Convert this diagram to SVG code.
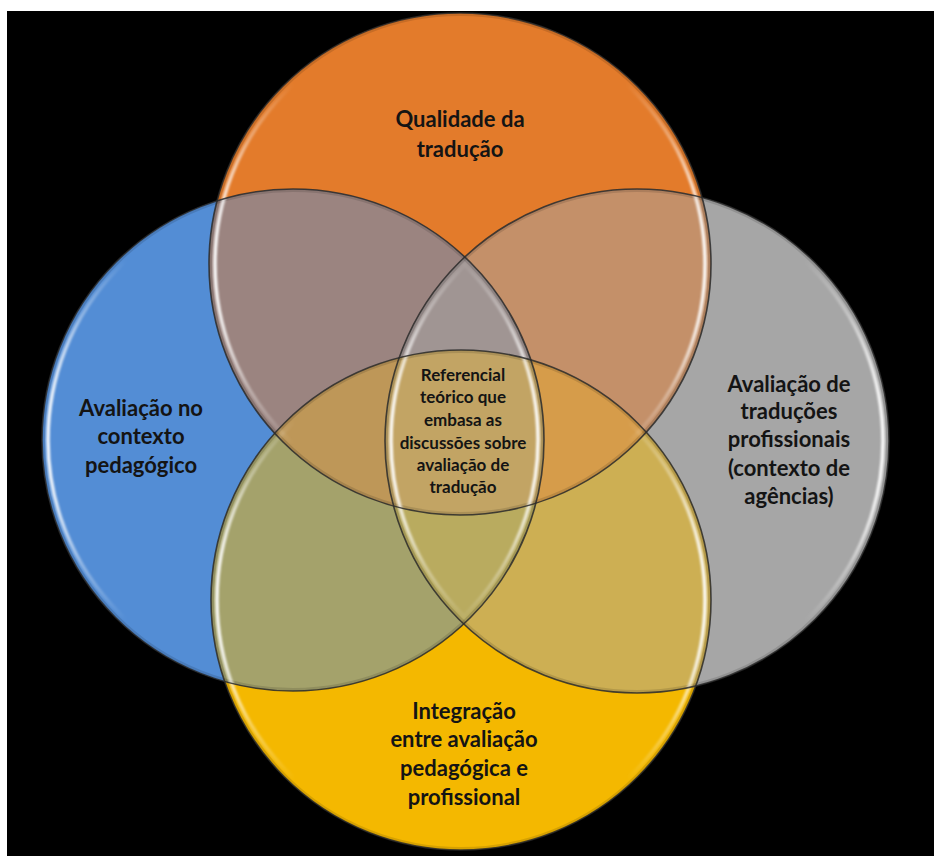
<svg xmlns="http://www.w3.org/2000/svg" width="934" height="856" viewBox="0 0 934 856">
  <defs>
    <style>
      .lbl { font-family: Lato, "Open Sans", "Liberation Sans", sans-serif; font-weight: 700; fill: #141414; text-anchor: middle; }
      .big { font-size: 22px; }
      .small { font-size: 17px; }
      .rim { fill: none; stroke: #2a2a2a; stroke-width: 1.6; stroke-opacity: 0.85; }
      .sheen { fill: none; stroke: url(#sheen); stroke-width: 3.5; }
      .inner { fill: none; stroke: #000; stroke-opacity: 0.12; stroke-width: 6; }
    </style>
    <!-- glossy highlight running down the left and right sides of each disc -->
    <linearGradient id="sheen" x1="0" y1="0" x2="1" y2="0">
      <stop offset="0" stop-color="#fff" stop-opacity="0.95"/>
      <stop offset="0.07" stop-color="#fff" stop-opacity="0.35"/>
      <stop offset="0.16" stop-color="#fff" stop-opacity="0"/>
      <stop offset="0.84" stop-color="#fff" stop-opacity="0"/>
      <stop offset="0.93" stop-color="#fff" stop-opacity="0.35"/>
      <stop offset="1" stop-color="#fff" stop-opacity="0.95"/>
    </linearGradient>
    <filter id="soft" x="-5%" y="-5%" width="110%" height="110%">
      <feGaussianBlur stdDeviation="1"/>
    </filter>
    <clipPath id="cO"><circle cx="460" cy="264" r="251"/></clipPath>
    <clipPath id="cB"><circle cx="293" cy="440" r="251"/></clipPath>
    <clipPath id="cG"><circle cx="637" cy="441" r="252"/></clipPath>
    <clipPath id="cY"><circle cx="461" cy="600" r="250"/></clipPath>
  </defs>

  <rect x="7" y="11" width="927" height="845" fill="#000"/>

  <!-- base discs -->
  <g id="node-qualidade"><circle cx="460" cy="264" r="251" fill="#E37B2B"/></g>
  <g id="node-pedagogico"><circle cx="293" cy="440" r="251" fill="#538DD5"/></g>
  <g id="node-agencias"><circle cx="637" cy="441" r="252" fill="#A6A6A6"/></g>
  <g id="node-integracao"><circle cx="461" cy="600" r="250" fill="#F4B800"/></g>

  <!-- overlap regions, painted from two-way up to the four-way centre -->
  <g id="overlaps">
    <g clip-path="url(#cO)"><circle cx="293" cy="440" r="251" fill="#9B8480"/></g>
    <g clip-path="url(#cO)"><circle cx="637" cy="441" r="252" fill="#C49069"/></g>
    <g clip-path="url(#cB)"><circle cx="461" cy="600" r="250" fill="#A4A26B"/></g>
    <g clip-path="url(#cG)"><circle cx="461" cy="600" r="250" fill="#CDAF53"/></g>
    <g clip-path="url(#cO)"><g clip-path="url(#cB)"><circle cx="461" cy="600" r="250" fill="#BE9758"/></g></g>
    <g clip-path="url(#cO)"><g clip-path="url(#cG)"><circle cx="461" cy="600" r="250" fill="#D69C4A"/></g></g>
    <g clip-path="url(#cO)"><g clip-path="url(#cB)"><circle cx="637" cy="441" r="252" fill="#A09593"/></g></g>
    <g clip-path="url(#cB)"><g clip-path="url(#cG)"><circle cx="461" cy="600" r="250" fill="#B9AB5F"/></g></g>
    <g clip-path="url(#cO)"><g clip-path="url(#cB)"><g clip-path="url(#cG)"><circle cx="461" cy="600" r="250" fill="#C2A464"/></g></g></g>
  </g>

  <!-- bevel: inner shade, gloss and dark rims -->
  <g id="rims">
    <g clip-path="url(#cO)"><circle class="inner" cx="460" cy="264" r="251"/></g>
    <g clip-path="url(#cB)"><circle class="inner" cx="293" cy="440" r="251"/></g>
    <g clip-path="url(#cG)"><circle class="inner" cx="637" cy="441" r="252"/></g>
    <g clip-path="url(#cY)"><circle class="inner" cx="461" cy="600" r="250"/></g>
    <g filter="url(#soft)">
      <circle class="sheen" cx="460" cy="264" r="245"/>
      <circle class="sheen" cx="293" cy="440" r="245"/>
      <circle class="sheen" cx="637" cy="441" r="246"/>
      <circle class="sheen" cx="461" cy="600" r="244"/>
    </g>
    <circle class="rim" cx="460" cy="264" r="251"/>
    <circle class="rim" cx="293" cy="440" r="251"/>
    <circle class="rim" cx="637" cy="441" r="252"/>
    <circle class="rim" cx="461" cy="600" r="250"/>
  </g>

  <!-- labels -->
  <g id="label-qualidade" class="lbl big">
    <text x="460" y="127">Qualidade da</text>
    <text x="460" y="157">tradução</text>
  </g>
  <g id="label-pedagogico" class="lbl big">
    <text x="141" y="416">Avaliação no</text>
    <text x="141" y="444">contexto</text>
    <text x="141" y="473">pedagógico</text>
  </g>
  <g id="label-agencias" class="lbl big">
    <text x="789" y="392">Avaliação de</text>
    <text x="789" y="419">traduções</text>
    <text x="789" y="447">profissionais</text>
    <text x="789" y="476">(contexto de</text>
    <text x="789" y="504">agências)</text>
  </g>
  <g id="label-centro" class="lbl small">
    <text x="463" y="381">Referencial</text>
    <text x="463" y="403">teórico que</text>
    <text x="463" y="426">embasa as</text>
    <text x="463" y="449">discussões sobre</text>
    <text x="463" y="471">avaliação de</text>
    <text x="463" y="493">tradução</text>
  </g>
  <g id="label-integracao" class="lbl big">
    <text x="464" y="719">Integração</text>
    <text x="464" y="747">entre avaliação</text>
    <text x="464" y="776">pedagógica e</text>
    <text x="464" y="805">profissional</text>
  </g>
</svg>
